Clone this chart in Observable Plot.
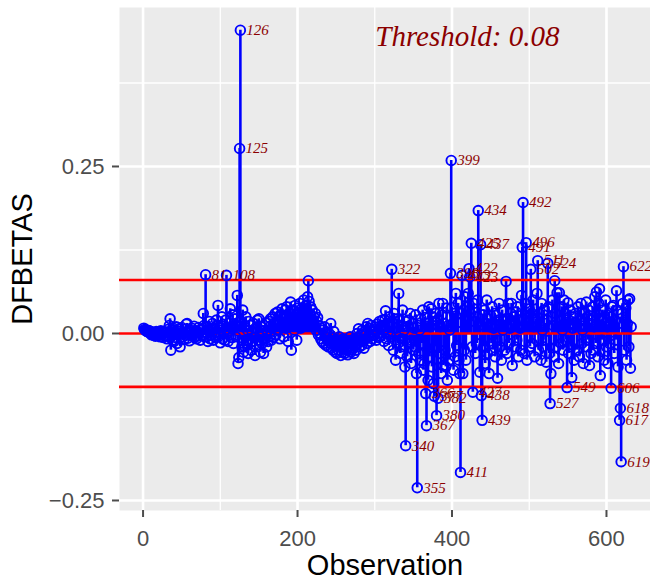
<!DOCTYPE html>
<html><head><meta charset="utf-8">
<script src="https://cdn.jsdelivr.net/npm/d3@7"></script>
<script src="https://cdn.jsdelivr.net/npm/@observablehq/plot@0.6"></script>
<style>
body{margin:0;background:#fff;}
#chart svg{display:block;}
</style></head><body><div id="chart"></div>
<script>
// DFBETAS per observation, in thousandths
const dfbetasMilli = [
 8,6,5,4,3,5,2,4,1,3,
 -2,2,0,-3,1,-4,3,-1,2,-3,
 0,-5,4,-2,1,-6,3,0,-3,2,
 -8,6,-4,12,22,-25,5,-10,8,-12,
 3,-6,10,-15,4,-2,7,-20,1,9,
 -5,2,-9,6,-3,14,15,-7,3,-11,
 5,-2,8,-4,0,11,-6,4,-8,2,
 -3,9,1,-10,6,5,-4,30,12,2,
 88,-5,10,-12,4,18,-8,6,-3,15,
 -10,8,2,-6,20,12,42,-4,9,-14,
 5,25,-8,14,3,-10,20,87,6,-12,
 15,4,37,-6,10,28,-15,8,22,-5,
 12,57,-45,-36,277,454,18,-20,35,-28,
 10,-20,25,-15,5,-30,18,-8,12,-25,
 3,-12,15,-6,-33,8,-18,20,-10,22,
 -5,-28,10,-15,4,-30,12,-8,16,-20,
 5,-12,18,-4,22,-10,8,25,-6,15,
 30,-2,12,32,5,20,-8,28,10,37,
 15,-5,25,35,8,40,18,-12,30,20,
 47,-25,12,35,22,5,42,28,-10,38,
 15,30,45,8,25,38,12,50,20,35,
 42,28,55,79,48,30,40,22,35,18,
 25,10,30,5,18,24,-2,12,0,-8,
 8,-12,5,-15,10,-5,-18,2,-10,-20,
 0,-14,15,-22,-6,-25,3,-18,-28,-10,
 -30,-15,-25,-5,-20,-33,-12,-28,-8,-22,
 -30,-18,-10,-25,-32,-15,-20,-5,-28,-25,
 -12,-22,-30,-8,-18,-25,0,-15,7,-20,
 -10,-2,-18,5,-12,-22,3,-8,10,-15,
 15,-5,8,-12,12,2,-8,6,-3,10,
 4,-10,14,0,-6,18,8,-4,12,20,
 5,-12,20,34,-8,15,2,-18,25,10,
 -5,96,15,-25,30,-10,-40,8,22,-15,
 60,20,-30,12,-8,35,-20,5,-50,-168,
 18,-35,10,20,-15,30,-45,-10,15,-25,
 8,-20,28,-60,-231,12,-30,5,-40,22,
 -15,35,-55,-45,24,-90,-138,15,-70,40,
 -35,10,37,-50,25,-75,-94,-20,30,-123,
 20,-97,45,-30,10,-60,28,45,-48,15,
 -25,-50,38,-70,12,-40,5,90,259,39,
 15,-55,30,-35,60,-18,16,45,-40,-60,
 -208,30,87,-60,35,-25,55,-40,20,40,
 60,97,85,30,135,-20,-88,45,18,-30,
 25,-15,50,184,12,-58,133,-93,-130,28,
 -20,35,-45,15,50,-30,22,-60,10,27,
 -15,40,-25,8,30,-35,27,-10,-67,20,
 45,-20,12,-40,35,5,20,-25,18,78,
 -30,22,45,-15,8,30,45,-48,12,25,
 -20,15,32,-10,40,-35,20,8,-25,57,
 129,196,20,-30,45,136,-40,15,25,37,
 -20,96,30,-15,50,10,-35,22,17,60,
 109,-25,30,12,-40,45,5,-20,35,15,
 -10,-43,20,105,40,-30,-105,-60,25,50,
 12,-35,79,30,-20,61,10,-45,61,20,
 -15,40,5,-25,50,30,-10,20,-81,46,
 -30,15,35,-20,-66,8,25,-40,12,30,
 16,-25,40,10,-35,20,45,-15,5,-45,
 30,12,-20,47,25,-10,35,-48,15,-30,
 20,40,-25,10,55,-15,62,30,-35,45,
 67,-63,20,-10,35,24,-40,15,50,-20,
 10,-45,30,-15,25,-82,40,12,42,-30,
 20,-10,64,35,-50,15,-130,-112,-192,30,
 45,100,-25,20,38,-40,15,50,-20,52,
 -52,10
];
const threshold = 0.08;
const thresholdLabel = "Threshold: 0.08";
const xTicks = [0, 200, 400, 600];
const xMinorTicks = [100, 300, 500];
const yTicks = [-0.25, 0, 0.25];
const yTickLabels = ["\u22120.25", "0.00", "0.25"];
const yMinorTicks = [-0.125, 0.125, 0.375];
const refLines = [0, threshold, -threshold];
const xTitle = "Observation";
const yTitle = "DFBETAS";

const data = dfbetasMilli.map((v, i) => ({obs: i + 1, v: v / 1000}));
const flagged = data.filter(d => Math.abs(d.v) > threshold);

const serif = "'Liberation Serif','DejaVu Serif',serif";
const sans = "'Liberation Sans',Arial,sans-serif";

const chart = Plot.plot({
  width: 650, height: 577,
  marginLeft: 119, marginRight: 0, marginTop: 7, marginBottom: 67,
  style: {background: "#fff", fontFamily: sans, overflow: "visible"},
  x: {domain: [-30.5, 657], axis: null},
  y: {domain: [-0.265, 0.488], axis: null},
  marks: [
    Plot.frame({fill: "#EBEBEB", stroke: null}),
    Plot.ruleY(yMinorTicks, {stroke: "#fff", strokeWidth: 1.3}),
    Plot.ruleX(xMinorTicks, {stroke: "#fff", strokeWidth: 1.3}),
    Plot.ruleY(yTicks, {stroke: "#fff", strokeWidth: 2.6}),
    Plot.ruleX(xTicks, {stroke: "#fff", strokeWidth: 2.6}),
    Plot.ruleX(data, {x: "obs", y1: 0, y2: "v", stroke: "#0000FF", strokeWidth: 2.6}),
    Plot.ruleY(refLines, {stroke: "#FF0000", strokeWidth: 2.6}),
    Plot.dot(data, {x: "obs", y: "v", r: 4.8, stroke: "#0000FF", strokeWidth: 1.9, fill: "none"}),
    Plot.text(flagged, {x: "obs", y: "v", text: d => String(d.obs), dx: 6, textAnchor: "start",
      fontFamily: serif, fontStyle: "italic", fontSize: 15, fill: "#8B0000"}),
    Plot.text([thresholdLabel], {frameAnchor: "top-right", dx: -91, dy: 29, textAnchor: "end",
      lineAnchor: "middle", fontFamily: serif, fontStyle: "italic", fontSize: 29, fill: "#8B0000"}),
    // axes
    Plot.axisX(xTicks, {tickSize: 7, tickPadding: 13, fontSize: 22, color: "#4D4D4D", strokeWidth: 2, label: null}),
    Plot.axisY(yTicks, {tickSize: 7, tickPadding: 8, fontSize: 22, color: "#4D4D4D", strokeWidth: 2,
      tickFormat: (d, i) => yTickLabels[i], label: null}),
    Plot.text([xTitle], {frameAnchor: "bottom", dy: 55, textAnchor: "middle", lineAnchor: "middle", fontSize: 29, fill: "#000"}),
    Plot.text([yTitle], {frameAnchor: "left", dx: -97, rotate: -90, textAnchor: "middle", lineAnchor: "middle", fontSize: 29, fill: "#000"})
  ]
});
document.getElementById("chart").appendChild(chart);
</script></body></html>
